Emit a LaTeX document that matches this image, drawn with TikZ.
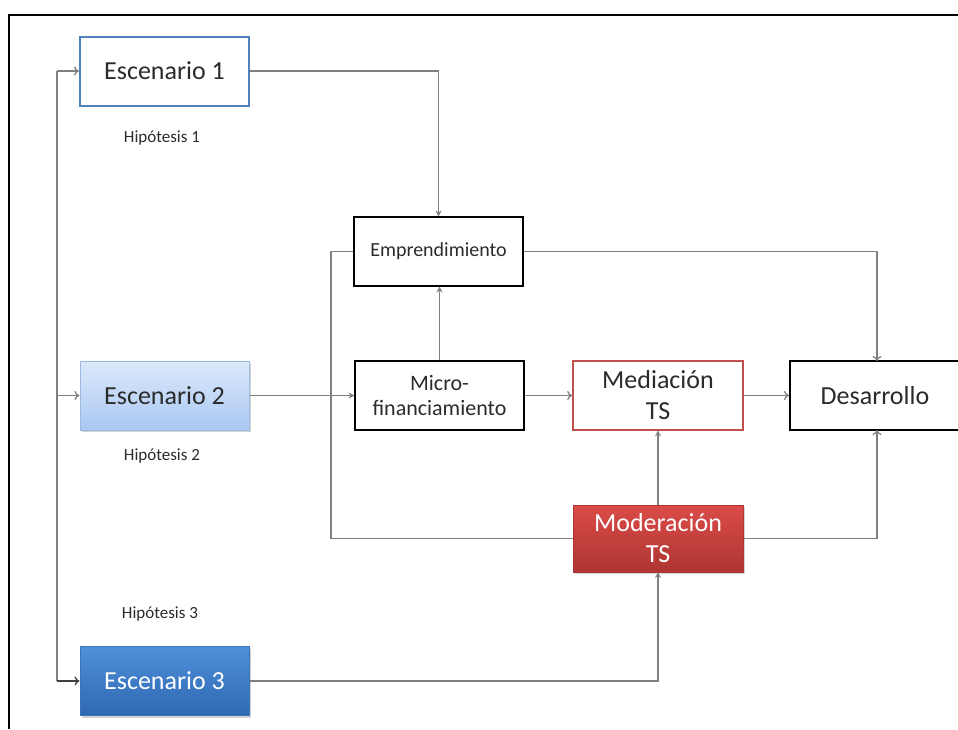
\documentclass[tikz,border=0pt]{standalone}
\usepackage{fontspec}
\setmainfont{Carlito}
\usetikzlibrary{arrows.meta,shadows}
\definecolor{bluebd}{HTML}{4F81BD}
\definecolor{lbtop}{HTML}{DDE9FB}
\definecolor{lbbot}{HTML}{A9C8F3}
\definecolor{lbbd}{HTML}{9DB9E0}
\definecolor{dbtop}{HTML}{4F90DA}
\definecolor{dbbot}{HTML}{2F67B2}
\definecolor{dbbd}{HTML}{3A72BC}
\definecolor{redbd}{HTML}{C0504D}
\definecolor{rtop}{HTML}{DA4B48}
\definecolor{rbot}{HTML}{AE3532}
\definecolor{txt}{HTML}{2B2B2B}
\definecolor{conncol}{HTML}{808080}
\tikzset{
  box/.style={rectangle, minimum width=169pt, minimum height=69pt, inner sep=2pt, align=center, text=txt},
  blackbox/.style={box, draw=black, line width=2pt, fill=white},
  conn/.style={draw=conncol, line width=1.3pt},
  openarr/.style={conn, -{To[length=5pt,width=9pt]}},
  fillarr/.style={conn, -{Stealth[length=6pt,width=6pt]}, shorten >=-0.5pt},
  hyp/.style={font=\fontsize{17}{19}\selectfont, text=txt},
  sh/.style={drop shadow={shadow xshift=1.5pt, shadow yshift=-2pt, opacity=0.35}}
}
\begin{document}
\begin{tikzpicture}[x=1pt,y=-1pt]
\useasboundingbox (0,0) rectangle (958,729);
% frame
\draw[line width=2.2pt] (9,729) -- (9,15) -- (960,15);
% nodes
\node[box, draw=bluebd, line width=2pt, fill=white, font=\fontsize{26}{30}\selectfont] (e1) at (164.5,71) {Escenario 1};
\node[hyp] (h1) at (162,138) {Hipótesis 1};
\node[box, draw=lbbd, line width=1pt, top color=lbtop, bottom color=lbbot, sh, font=\fontsize{26}{30}\selectfont] (e2) at (164.5,395.5) {Escenario 2};
\node[hyp] (h2) at (162,456) {Hipótesis 2};
\node[hyp] (h3) at (160,614) {Hipótesis 3};
\node[box, draw=dbbd, line width=1pt, top color=dbtop, bottom color=dbbot, sh, text=white, font=\fontsize{26}{30}\selectfont] (e3) at (164.5,681) {Escenario 3};
\node[blackbox, font=\fontsize{20}{24}\selectfont] (emp) at (438.5,251.5) {Emprendimiento};
\node[blackbox, font=\fontsize{22}{25}\selectfont] (mic) at (439.5,395.5) {Micro-\\financiamiento};
\node[box, minimum width=170pt, draw=redbd, line width=1.6pt, fill=white, font=\fontsize{26}{31}\selectfont] (med) at (658,395.5) {Mediación\\TS};
\node[blackbox, minimum width=190pt, font=\fontsize{26}{30}\selectfont] (des) at (885,395.5) {\hspace*{-20pt}Desarrollo};
\node[box, minimum width=170pt, minimum height=67pt, draw=rbot, line width=1pt, top color=rtop, bottom color=rbot, sh, text=white, font=\fontsize{26}{31}\selectfont] (mod) at (658,538.5) {Moderación\\TS};
% helper coordinates
\coordinate (tA) at (57,71);
\coordinate (tB) at (57,395.5);
\coordinate (tC) at (57,681);
\coordinate (dtop) at (877,361);
\coordinate (dbot) at (877,430);
\coordinate (lp) at (331,538.5);
% connectors
\draw[conn] (tA) -- (tC);
\draw[openarr] (tA) -- (e1.west);
\draw[openarr] (tB) -- (e2.west);
\draw[openarr, draw=black!75] (tC) -- (e3.west);
\draw[fillarr] (e1.east) -| (emp.north);
\draw[fillarr] (e2.east) -- (mic.west);
\draw[fillarr] (mic.north) -- (mic.north |- emp.south);
\draw[openarr] (mic.east) -- (med.west);
\draw[openarr] (med.east) -- (des.west);
\draw[openarr] (emp.east) -| (dtop);
\draw[conn] (emp.west) -| (lp) -- (mod.west);
\draw[fillarr] (mod.north) -- (med.south);
\draw[openarr] (mod.east) -| (dbot);
\draw[fillarr] (e3.east) -| (mod.south);
\end{tikzpicture}
\end{document}
